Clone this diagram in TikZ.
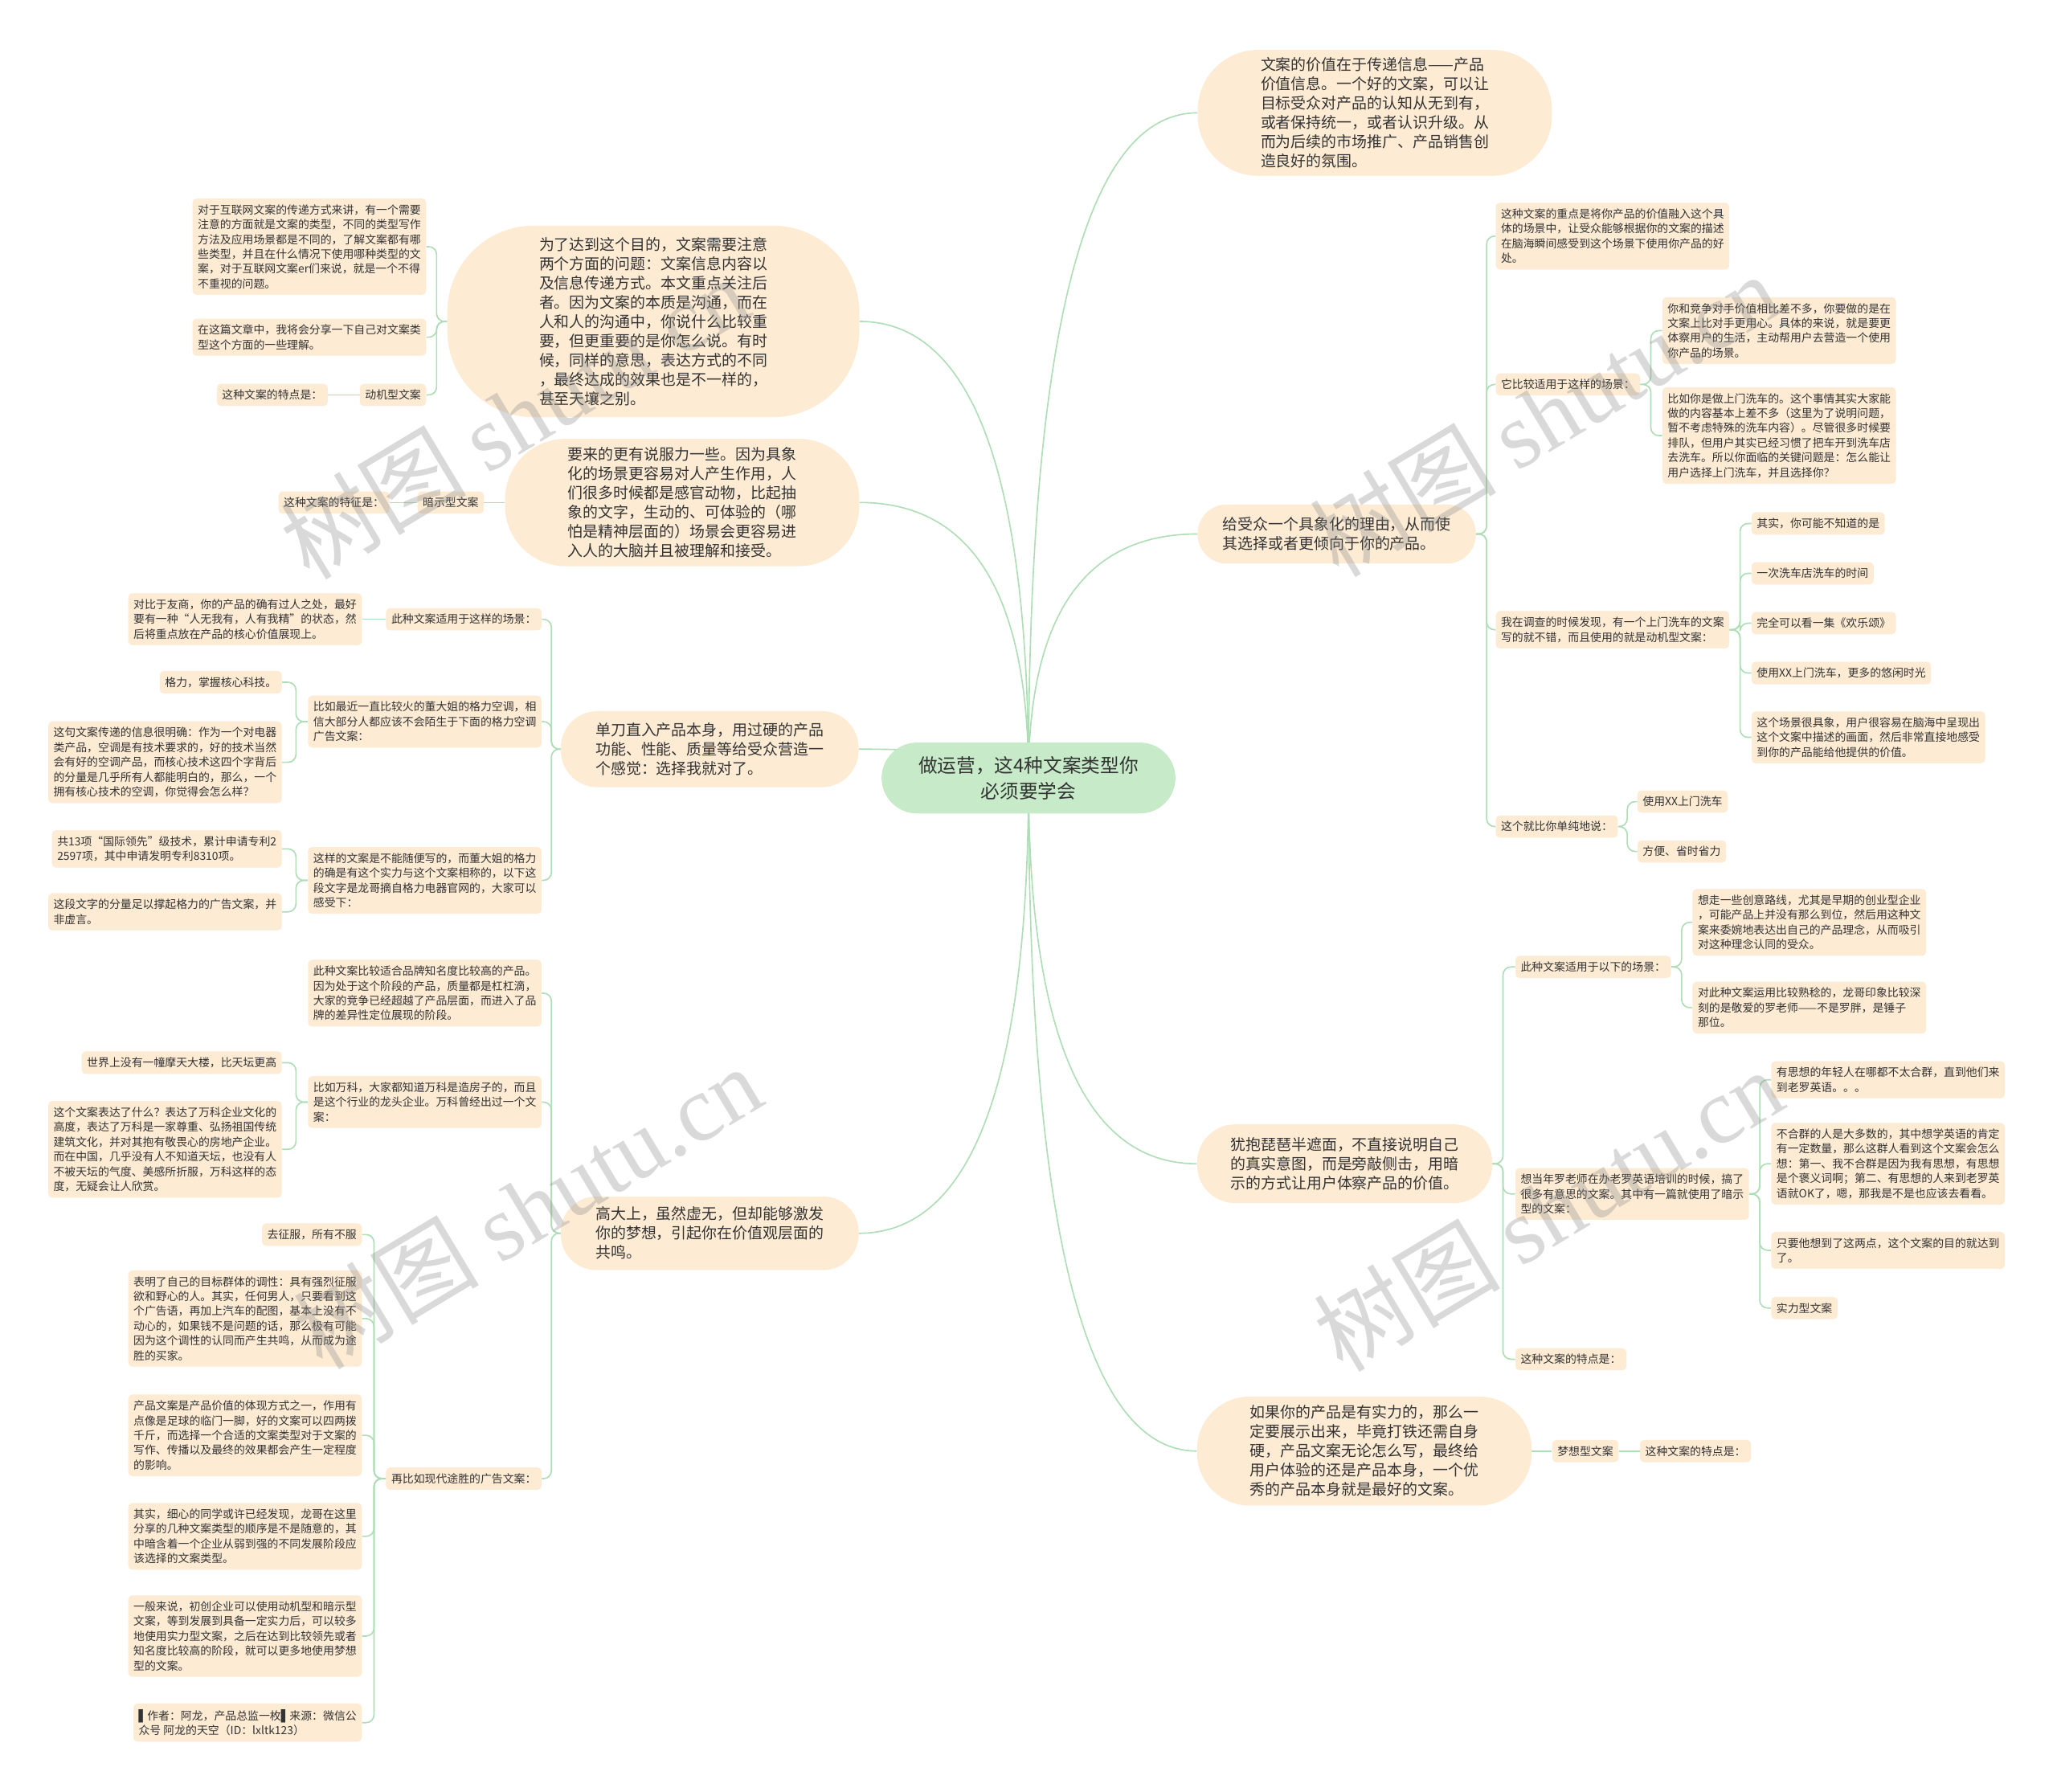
\documentclass[tikz,border=0pt]{standalone}
\usepackage{fontspec}
\setmainfont{Noto Sans CJK SC}
\newfontfamily\dejavu{DejaVu Sans}
\newfontfamily\wmlatin{Liberation Serif}
\usetikzlibrary{backgrounds,calc}
\definecolor{peach}{HTML}{FDEBD4}
\definecolor{rootgreen}{HTML}{C7EBC9}
\definecolor{linegreen}{HTML}{AEDDB6}
\definecolor{txt}{HTML}{333333}
\newcommand\smalltxt{\fontsize{8.5}{11.3}\selectfont}
\newcommand\bigtxt{\fontsize{11.6}{14.7}\selectfont}
\newcommand\roottxt{\fontsize{14.5}{19.5}\selectfont}
\newcommand\wmtxt{\fontsize{71}{71}\selectfont}
\newcommand\rootlink[1]{\draw[conn] (root.center) .. controls ($(root.center)!0.6667!(root.center |- #1)$) and ($(#1)!0.6667!(root.center |- #1)$) .. (#1);}
\newcommand\rbr[3]{\draw[branch] (#1.east) -- ++(#3,0) |- (#2.west);}
\newcommand\lbr[3]{\draw[branch] (#1.west) -- ++(-#3,0) |- (#2.east);}
\tikzset{
 rootnode/.style={fill=rootgreen,text=txt,align=center,font=\roottxt,inner sep=0pt,minimum width=224pt,minimum height=54pt,rounded corners=27pt},
 mainnode/.style={fill=peach,text=txt,align=left,font=\bigtxt,inner sep=0pt},
 subnode/.style={fill=peach,text=txt,align=left,font=\smalltxt,rounded corners=3pt,inner xsep=4pt,inner ysep=4.5pt},
 rsub/.style={subnode,anchor=west},
 lsub/.style={subnode,anchor=east},
 conn/.style={draw=linegreen,line width=1pt},
 branch/.style={conn,rounded corners=6pt},
 wm/.style={text=black!45,opacity=0.33,rotate=31,inner sep=0pt}
}
\begin{document}
\begin{tikzpicture}[x=1pt,y=-1pt]
\useasboundingbox (0,0) rectangle (1568,1365.3);
% root
\node[rootnode] (root) at (784,593) {做运营，这4种文案类型你\\必须要学会};
% right main nodes
\node[mainnode,minimum width=270pt,minimum height=96pt,rounded corners=46pt] (R1) at (1048,86) {文案的价值在于传递信息——产品\\价值信息。一个好的文案，可以让\\目标受众对产品的认知从无到有，\\或者保持统一，或者认识升级。从\\而为后续的市场推广、产品销售创\\造良好的氛围。};
\node[mainnode,minimum width=212pt,minimum height=45pt,rounded corners=22pt] (R2) at (1019,407) {给受众一个具象化的理由，从而使\\其选择或者更倾向于你的产品。};
\node[mainnode,minimum width=225pt,minimum height=60pt,rounded corners=29pt] (R3) at (1025,887) {犹抱琵琶半遮面，不直接说明自己\\的真实意图，而是旁敲侧击，用暗\\示的方式让用户体察产品的价值。};
\node[mainnode,minimum width=255pt,minimum height=83pt,rounded corners=40pt] (R4) at (1040,1106) {如果你的产品是有实力的，那么一\\定要展示出来，毕竟打铁还需自身\\硬，产品文案无论怎么写，最终给\\用户体验的还是产品本身，一个优\\秀的产品本身就是最好的文案。};
% left main nodes
\node[mainnode,minimum width=314pt,minimum height=146pt,rounded corners=66pt] (L1) at (498,245) {为了达到这个目的，文案需要注意\\两个方面的问题：文案信息内容以\\及信息传递方式。本文重点关注后\\者。因为文案的本质是沟通，而在\\人和人的沟通中，你说什么比较重\\要，但更重要的是你怎么说。有时\\候，同样的意思，表达方式的不同\\，最终达成的效果也是不一样的，\\甚至天壤之别。};
\node[mainnode,minimum width=270pt,minimum height=97pt,rounded corners=46pt] (L2) at (520,383) {要来的更有说服力一些。因为具象\\化的场景更容易对人产生作用，人\\们很多时候都是感官动物，比起抽\\象的文字，生动的、可体验的（哪\\怕是精神层面的）场景会更容易进\\入人的大脑并且被理解和接受。};
\node[mainnode,minimum width=227pt,minimum height=58pt,rounded corners=28pt] (L3) at (541,571) {单刀直入产品本身，用过硬的产品\\功能、性能、质量等给受众营造一\\个感觉：选择我就对了。};
\node[mainnode,minimum width=227pt,minimum height=56pt,rounded corners=27pt] (L4) at (541,940) {高大上，虽然虚无，但却能够激发\\你的梦想，引起你在价值观层面的\\共鸣。};
% R2 children
\node[rsub] (a) at (1140,180) {这种文案的重点是将你产品的价值融入这个具\\体的场景中，让受众能够根据你的文案的描述\\在脑海瞬间感受到这个场景下使用你产品的好\\处。};
\node[rsub] (b) at (1140,293) {它比较适用于这样的场景：};
\node[rsub] (b1) at (1267,252) {你和竞争对手价值相比差不多，你要做的是在\\文案上比对手更用心。具体的来说，就是要更\\体察用户的生活，主动帮用户去营造一个使用\\你产品的场景。};
\node[rsub] (b2) at (1267,332) {比如你是做上门洗车的。这个事情其实大家能\\做的内容基本上差不多（这里为了说明问题，\\暂不考虑特殊的洗车内容）。尽管很多时候要\\排队，但用户其实已经习惯了把车开到洗车店\\去洗车。所以你面临的关键问题是：怎么能让\\用户选择上门洗车，并且选择你？};
\node[rsub] (c) at (1140,480) {我在调查的时候发现，有一个上门洗车的文案\\写的就不错，而且使用的就是动机型文案：};
\node[rsub] (c1) at (1335,399) {其实，你可能不知道的是};
\node[rsub] (c2) at (1335,437) {一次洗车店洗车的时间};
\node[rsub] (c3) at (1335,475) {完全可以看一集《欢乐颂》};
\node[rsub] (c4) at (1335,513) {使用XX上门洗车，更多的悠闲时光};
\node[rsub] (c5) at (1335,562) {这个场景很具象，用户很容易在脑海中呈现出\\这个文案中描述的画面，然后非常直接地感受\\到你的产品能给他提供的价值。};
\node[rsub] (d) at (1140,630) {这个就比你单纯地说：};
\node[rsub] (d1) at (1248,611) {使用XX上门洗车};
\node[rsub] (d2) at (1248,649) {方便、省时省力};
% R3 children
\node[rsub] (e) at (1155,737) {此种文案适用于以下的场景：};
\node[rsub] (e1) at (1290,703) {想走一些创意路线，尤其是早期的创业型企业\\，可能产品上并没有那么到位，然后用这种文\\案来委婉地表达出自己的产品理念，从而吸引\\对这种理念认同的受众。};
\node[rsub] (e2) at (1290,768) {对此种文案运用比较熟稔的，龙哥印象比较深\\刻的是敬爱的罗老师——不是罗胖，是锤子\\那位。};
\node[rsub] (f) at (1155,910) {想当年罗老师在办老罗英语培训的时候，搞了\\很多有意思的文案。其中有一篇就使用了暗示\\型的文案：};
\node[rsub] (f1) at (1350,823) {有思想的年轻人在哪都不太合群，直到他们来\\到老罗英语。。。};
\node[rsub] (f2) at (1350,887) {不合群的人是大多数的，其中想学英语的肯定\\有一定数量，那么这群人看到这个文案会怎么\\想：第一、我不合群是因为我有思想，有思想\\是个褒义词啊；第二、有思想的人来到老罗英\\语就OK了，嗯，那我是不是也应该去看看。};
\node[rsub] (f3) at (1350,953) {只要他想到了这两点，这个文案的目的就达到\\了。};
\node[rsub] (f4) at (1350,997) {实力型文案};
\node[rsub] (g) at (1155,1036) {这种文案的特点是：};
% R4 children
\node[rsub] (h) at (1183,1106) {梦想型文案};
\node[rsub] (h1) at (1250,1106) {这种文案的特点是：};
% L1 children
\node[lsub] (i) at (325,188) {对于互联网文案的传递方式来讲，有一个需要\\注意的方面就是文案的类型，不同的类型写作\\方法及应用场景都是不同的，了解文案都有哪\\些类型，并且在什么情况下使用哪种类型的文\\案，对于互联网文案er们来说，就是一个不得\\不重视的问题。};
\node[lsub] (j) at (325,257) {在这篇文章中，我将会分享一下自己对文案类\\型这个方面的一些理解。};
\node[lsub] (k) at (325,301) {动机型文案};
\node[lsub] (k1) at (250,301) {这种文案的特点是：};
% L2 children
\node[lsub] (l) at (369,383) {暗示型文案};
\node[lsub] (l1) at (297,383) {这种文案的特征是：};
% L3 children
\node[lsub] (m) at (413,472) {此种文案适用于这样的场景：};
\node[lsub] (m1) at (276,472) {对比于友商，你的产品的确有过人之处，最好\\要有一种“人无我有，人有我精”的状态，然\\后将重点放在产品的核心价值展现上。};
\node[lsub] (n) at (413,550) {比如最近一直比较火的董大姐的格力空调，相\\信大部分人都应该不会陌生于下面的格力空调\\广告文案：};
\node[lsub] (n1) at (215,520) {格力，掌握核心科技。};
\node[lsub] (n2) at (215,581) {这句文案传递的信息很明确：作为一个对电器\\类产品，空调是有技术要求的，好的技术当然\\会有好的空调产品，而核心技术这四个字背后\\的分量是几乎所有人都能明白的，那么，一个\\拥有核心技术的空调，你觉得会怎么样？};
\node[lsub] (o) at (413,671) {这样的文案是不能随便写的，而董大姐的格力\\的确是有这个实力与这个文案相称的，以下这\\段文字是龙哥摘自格力电器官网的，大家可以\\感受下：};
\node[lsub] (o1) at (215,647) {共13项“国际领先”级技术，累计申请专利2\\2597项，其中申请发明专利8310项。};
\node[lsub] (o2) at (215,695) {这段文字的分量足以撑起格力的广告文案，并\\非虚言。};
% L4 children
\node[lsub] (p) at (413,757) {此种文案比较适合品牌知名度比较高的产品。\\因为处于这个阶段的产品，质量都是杠杠滴，\\大家的竞争已经超越了产品层面，而进入了品\\牌的差异性定位展现的阶段。};
\node[lsub] (q) at (413,840) {比如万科，大家都知道万科是造房子的，而且\\是这个行业的龙头企业。万科曾经出过一个文\\案：};
\node[lsub] (q1) at (215,810) {世界上没有一幢摩天大楼，比天坛更高};
\node[lsub] (q2) at (215,876) {这个文案表达了什么？表达了万科企业文化的\\高度，表达了万科是一家尊重、弘扬祖国传统\\建筑文化，并对其抱有敬畏心的房地产企业。\\而在中国，几乎没有人不知道天坛，也没有人\\不被天坛的气度、美感所折服，万科这样的态\\度，无疑会让人欣赏。};
\node[lsub] (r) at (413,1127) {再比如现代途胜的广告文案：};
\node[lsub] (r1) at (276,941) {去征服，所有不服};
\node[lsub] (r2) at (276,1005) {表明了自己的目标群体的调性：具有强烈征服\\欲和野心的人。其实，任何男人，只要看到这\\个广告语，再加上汽车的配图，基本上没有不\\动心的，如果钱不是问题的话，那么极有可能\\因为这个调性的认同而产生共鸣，从而成为途\\胜的买家。};
\node[lsub] (r3) at (276,1094) {产品文案是产品价值的体现方式之一，作用有\\点像是足球的临门一脚，好的文案可以四两拨\\千斤，而选择一个合适的文案类型对于文案的\\写作、传播以及最终的效果都会产生一定程度\\的影响。};
\node[lsub] (r4) at (276,1171) {其实，细心的同学或许已经发现，龙哥在这里\\分享的几种文案类型的顺序是不是随意的，其\\中暗含着一个企业从弱到强的不同发展阶段应\\该选择的文案类型。};
\node[lsub] (r5) at (276,1247) {一般来说，初创企业可以使用动机型和暗示型\\文案，等到发展到具备一定实力后，可以较多\\地使用实力型文案，之后在达到比较领先或者\\知名度比较高的阶段，就可以更多地使用梦想\\型的文案。};
\node[lsub] (r6) at (276,1313) {{\dejavu ▌}作者：阿龙，产品总监一枚{\dejavu ▌}来源：微信公\\众号 阿龙的天空（ID：lxltk123）};
% connectors
\begin{scope}[on background layer]
\fill[white] (0,0) rectangle (1568,1365.3);
\rootlink{R1.west}
\rootlink{R2.west}
\rootlink{R3.west}
\rootlink{R4.west}
\rootlink{L1.east}
\rootlink{L2.east}
\rootlink{L3.east}
\rootlink{L4.east}
% right branches
\rbr{R2}{a}{8} \rbr{R2}{b}{8} \rbr{R2}{c}{8} \rbr{R2}{d}{8}
\rbr{b}{b1}{8} \rbr{b}{b2}{8}
\rbr{c}{c1}{8} \rbr{c}{c2}{8} \rbr{c}{c3}{8} \rbr{c}{c4}{8} \rbr{c}{c5}{8}
\rbr{d}{d1}{7} \rbr{d}{d2}{7}
\rbr{R3}{e}{8} \rbr{R3}{f}{8} \rbr{R3}{g}{8}
\rbr{e}{e1}{8} \rbr{e}{e2}{8}
\rbr{f}{f1}{8} \rbr{f}{f2}{8} \rbr{f}{f3}{8} \rbr{f}{f4}{8}
\draw[conn] (R4.east) -- (h.west);
\draw[conn] (h.east) -- (h1.west);
% left branches
\lbr{L1}{i}{8} \lbr{L1}{j}{8} \lbr{L1}{k}{8}
\draw[conn] (k.west) -- (k1.east);
\draw[conn] (L2.west) -- (l.east);
\draw[conn] (l.west) -- (l1.east);
\lbr{L3}{m}{7} \lbr{L3}{n}{7} \lbr{L3}{o}{7}
\draw[conn] (m.west) -- (m1.east);
\lbr{n}{n1}{9} \lbr{n}{n2}{9}
\lbr{o}{o1}{9} \lbr{o}{o2}{9}
\lbr{L4}{p}{7} \lbr{L4}{q}{7} \lbr{L4}{r}{7}
\lbr{q}{q1}{9} \lbr{q}{q2}{9}
\lbr{r}{r1}{9} \lbr{r}{r2}{9} \lbr{r}{r3}{9} \lbr{r}{r4}{9} \lbr{r}{r5}{9} \lbr{r}{r6}{9}
\end{scope}
% watermarks
\node[wm] (w1) at (392,318) {\wmtxt 树图 {\wmlatin shutu.cn}};
\node[wm] (w2) at (402,920) {\wmtxt 树图 {\wmlatin shutu.cn}};
\node[wm] (w3) at (1177,316) {\wmtxt 树图 {\wmlatin shutu.cn}};
\node[wm] (w4) at (1180,922) {\wmtxt 树图 {\wmlatin shutu.cn}};
\end{tikzpicture}
\end{document}
